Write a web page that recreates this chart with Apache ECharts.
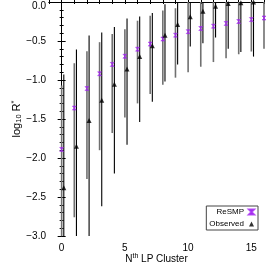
<!DOCTYPE html>
<html>
<head>
<meta charset="utf-8">
<script src="https://cdn.jsdelivr.net/npm/echarts@6/dist/echarts.min.js"></script>
<style>
html,body{margin:0;padding:0;background:#fff;}
#chart{width:275px;height:268px;}
</style>
</head>
<body>
<div id="chart"></div>
<script>
// Cluster index
const resmpN = [0,1,2,3,4,5,6,7,8,9,10,11,12,13,14,15,16];
const resmpVal = [-1.89,-1.36,-1.11,-0.92,-0.80,-0.695,-0.605,-0.54,-0.475,-0.425,-0.38,-0.34,-0.31,-0.275,-0.25,-0.225,-0.205];
const resmpHi  = [-1.07,-0.785,-0.63,-0.515,-0.41,-0.35,-0.24,-0.175,-0.11,-0.08,0.1,0.1,0.1,0.1,0.1,0.1,0.1];
const resmpLo  = [-3.2,-2.76,-2.27,-1.90,-1.68,-1.48,-1.30,-1.18,-1.06,-0.97,-0.90,-0.83,-0.77,-0.72,-0.67,-0.635,-0.60];

const obsN = [0,1,2,3,4,5,6,7,8,9,10,11,12,13,14,15];
const obsVal = [-2.38,-1.85,-1.52,-1.26,-1.055,-0.86,-0.70,-0.56,-0.425,-0.29,-0.19,-0.12,-0.055,-0.02,-0.01,0.0];
const obsHi  = [-0.93,-0.61,-0.43,-0.39,-0.32,-0.21,-0.185,-0.14,-0.03,0.1,0.1,0.1,0.1,0.1,0.1,0.1];
const obsLo  = [-3.2,-3.2,-3.2,-2.62,-2.20,-1.83,-1.54,-1.28,-1.02,-0.80,-0.57,-0.53,-0.455,-0.60,-0.64,-0.70];

const xTickLabels = [0,5,10,15];
const yTickLabels = [-3.0,-2.5,-2.0,-1.5,-1.0,-0.5,0.0];

const OBS_DX = 0.17;
const PURPLE = '#a020f0';
const FONT = '"Liberation Sans", Arial, Helvetica, sans-serif';

function barRender(color, width, dx) {
  return function (params, api) {
    const x = api.value(0) + dx;
    const p1 = api.coord([x, api.value(1)]);
    const p2 = api.coord([x, api.value(2)]);
    const cs = params.coordSys;
    const cy = y => Math.max(cs.y, Math.min(cs.y + cs.height, y));
    return {
      type: 'line',
      shape: { x1: p1[0], y1: cy(p1[1]), x2: p2[0], y2: cy(p2[1]) },
      style: { stroke: color, lineWidth: width }
    };
  };
}

const resmpBars = resmpN.map((n, i) => [n, resmpLo[i], resmpHi[i]]);
const obsBars = obsN.map((n, i) => [n, obsLo[i], obsHi[i]]);
const resmpPts = resmpN.map((n, i) => [n, resmpVal[i]]);
const obsPts = obsN.map((n, i) => [n + OBS_DX, obsVal[i]]);

const chart = echarts.init(document.getElementById('chart'), null, { renderer: 'canvas' });

const axisCommon = {
  type: 'value',
  splitLine: { show: false },
  axisLine: { show: true, lineStyle: { color: '#000', width: 1 } }
};

const option = {
  animation: false,
  backgroundColor: '#fff',
  textStyle: { fontFamily: FONT },
  grid: { left: 49, right: 11, top: 2, bottom: 32, containLabel: false, outerBoundsMode: 'none' },
  xAxis: [
    Object.assign({}, axisCommon, {
      position: 'bottom', min: -1, max: 16, interval: 1,
      axisTick: { inside: true, length: 2, lineStyle: { color: '#000' } },
      axisLabel: { customValues: xTickLabels, margin: 7, fontSize: 10, color: '#000', fontFamily: FONT },
      name: '{n|N}{sup|th}{n| LP Cluster}',
      nameLocation: 'middle', nameGap: 17, nameMoveOverlap: false,
      nameTextStyle: {
        fontSize: 10, color: '#000', fontFamily: FONT,
        rich: { n: { fontSize: 10, fontFamily: FONT }, sup: { fontSize: 7, fontFamily: FONT, padding: [0, 0, 5, 0] } }
      }
    }),
    Object.assign({}, axisCommon, {
      position: 'bottom', min: -1, max: 16,
      axisLine: { show: false },
      axisTick: { inside: true, length: 4, customValues: xTickLabels, lineStyle: { color: '#000' } },
      axisLabel: { show: false }
    }),
    Object.assign({}, axisCommon, {
      position: 'top', min: -1, max: 16, interval: 1,
      axisTick: { inside: true, length: 2, lineStyle: { color: '#000' } },
      axisLabel: { show: false }
    })
  ],
  yAxis: [
    Object.assign({}, axisCommon, {
      position: 'left', min: -3, max: 0, interval: 0.5,
      axisTick: { inside: true, length: 4, lineStyle: { color: '#000' } },
      minorTick: { show: true, splitNumber: 5, length: 2, lineStyle: { color: '#000' } },
      axisLabel: {
        customValues: yTickLabels,
        formatter: v => (Math.abs(v) < 1e-9 ? '{top|0.0}' : '\u2212' + Math.abs(v).toFixed(1)),
        margin: 3, fontSize: 10, color: '#000', fontFamily: FONT,
        rich: { top: { fontSize: 10, fontFamily: FONT, color: '#000', padding: [8, 0, 0, 0] } }
      },
      name: '{n|log}{sub|10}{n| R}{sup|*}',
      nameLocation: 'middle', nameGap: 26, nameMoveOverlap: false,
      nameTextStyle: {
        fontSize: 11, color: '#000', fontFamily: FONT,
        rich: {
          n: { fontSize: 11, fontFamily: FONT },
          sub: { fontSize: 7.5, fontFamily: FONT, padding: [5, 0, 0, 0] },
          sup: { fontSize: 7.5, fontFamily: FONT, padding: [0, 0, 5, 0] }
        }
      }
    }),
    Object.assign({}, axisCommon, {
      position: 'right', min: -3, max: 0, interval: 0.5,
      axisTick: { inside: true, length: 4, lineStyle: { color: '#000' } },
      minorTick: { show: true, splitNumber: 5, length: 2, lineStyle: { color: '#000' } },
      axisLabel: { show: false }
    })
  ],
  legend: {
    data: ['ReSMP', 'Observed'],
    orient: 'vertical', align: 'right',
    right: 17, top: 206,
    itemWidth: 5, itemHeight: 5, itemGap: 4,
    padding: [2, 3, 2, 3],
    borderColor: '#444', borderWidth: 1,
    selectedMode: false,
    textStyle: { fontSize: 8, color: '#000', fontFamily: FONT }
  },
  series: [
    {
      type: 'custom', name: 'ReSMP bars', xAxisIndex: 0, yAxisIndex: 0,
      renderItem: barRender('#707070', 1.6, 0), data: resmpBars, z: 2, silent: true
    },
    {
      type: 'custom', name: 'Observed bars', xAxisIndex: 0, yAxisIndex: 0,
      renderItem: barRender('#000000', 1.1, OBS_DX), data: obsBars, z: 2, silent: true
    },
    {
      type: 'scatter', name: 'ReSMP', xAxisIndex: 0, yAxisIndex: 0,
      symbol: 'path://M0,0L10,0L0,10L10,10Z',
      symbolSize: [4, 4],
      itemStyle: { color: PURPLE, borderColor: PURPLE, borderWidth: 0.6 },
      data: resmpPts, z: 5
    },
    {
      type: 'scatter', name: 'Observed', xAxisIndex: 0, yAxisIndex: 0,
      symbol: 'triangle', symbolSize: [5, 5],
      itemStyle: { color: '#000' },
      data: obsPts, z: 5
    }
  ]
};
chart.setOption(option);
</script>
</body>
</html>
